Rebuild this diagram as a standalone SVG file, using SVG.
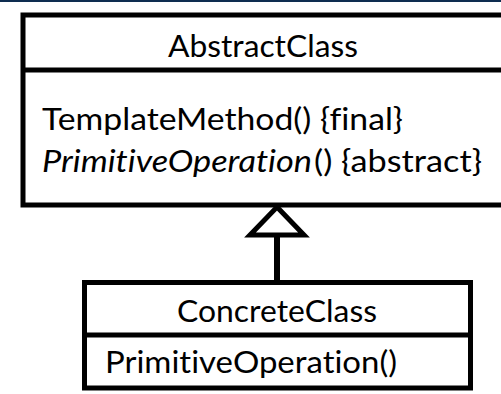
<svg xmlns="http://www.w3.org/2000/svg" width="501" height="394" viewBox="0 0 501 394">
  <style>
    .box { fill: #ffffff; stroke: #000000; stroke-width: 5; }
    .div { stroke: #000000; stroke-width: 5; fill: none; }
    .t { font-family: Lato, "Open Sans", "Liberation Sans", sans-serif; font-size: 30px; fill: #000000; font-variant-ligatures: none; font-feature-settings: "liga" 0, "clig" 0; }
    .i { font-style: italic; }
    .edge { stroke: #000000; stroke-width: 6; fill: none; }
    .head { fill: #ffffff; stroke: #000000; stroke-width: 5; stroke-linejoin: miter; }
  </style>
  <rect x="0" y="0" width="501" height="394" fill="#ffffff"/>
  <rect x="0" y="0" width="501" height="2" fill="#0e2d50"/>

  <g id="AbstractClass">
    <rect class="box" x="23" y="15" width="500" height="190"/>
    <line class="div" x1="23" y1="70" x2="523" y2="70"/>
    <text class="t" x="168" y="57" textLength="190" lengthAdjust="spacingAndGlyphs">AbstractClass</text>
    <text class="t" x="42" y="130" textLength="361" lengthAdjust="spacingAndGlyphs">TemplateMethod() {final}</text>
    <text class="t" y="172"><tspan class="i" x="42" textLength="270" lengthAdjust="spacingAndGlyphs">PrimitiveOperation</tspan><tspan x="314" textLength="168" lengthAdjust="spacingAndGlyphs">() {abstract}</tspan></text>
  </g>

  <g id="ConcreteClass">
    <rect class="box" x="84.5" y="282.5" width="386" height="105.5"/>
    <line class="div" x1="84.5" y1="335" x2="470.5" y2="335"/>
    <text class="t" x="177" y="322" textLength="200" lengthAdjust="spacingAndGlyphs">ConcreteClass</text>
    <text class="t" x="105" y="373" textLength="292" lengthAdjust="spacingAndGlyphs">PrimitiveOperation()</text>
  </g>

  <g id="connectors">
    <line class="edge" x1="277" y1="282" x2="277" y2="234"/>
    <polygon class="head" points="277,207 304,235 250,235"/>
  </g>
</svg>
